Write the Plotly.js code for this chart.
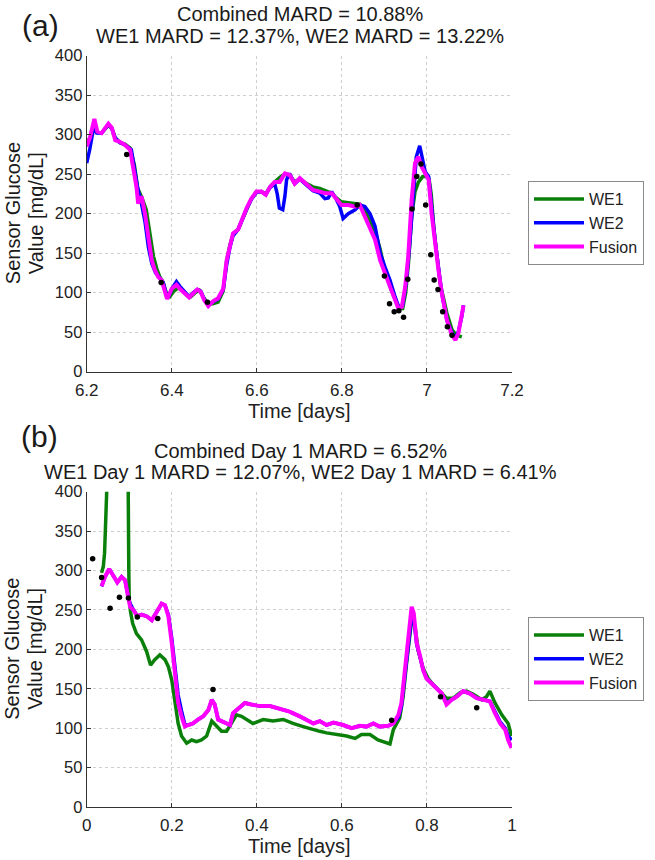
<!DOCTYPE html>
<html>
<head>
<meta charset="utf-8">
<script src="https://cdn.plot.ly/plotly-3.0.1.min.js"></script>
<style>html,body{margin:0;padding:0;background:#fff;}#chart{width:655px;height:860px;}</style>
</head>
<body>
<div id="chart"></div>
<script>
// ---------- Panel (a) data ----------
const aWE1Time = [6.200,6.208,6.218,6.225,6.235,6.251,6.259,6.267,6.278,6.290,
  6.302,6.312,6.320,6.330,6.340,6.349,6.357,6.365,6.372,6.380,
  6.388,6.395,6.405,6.415,6.425,6.435,6.445,6.455,6.465,6.475,
  6.486,6.497,6.509,6.521,6.529,6.537,6.545,6.556,6.565,6.576,
  6.587,6.599,6.611,6.621,6.631,6.642,6.654,6.666,6.677,6.689,
  6.701,6.717,6.732,6.748,6.760,6.776,6.787,6.799,6.815,6.831,
  6.842,6.854,6.866,6.878,6.890,6.901,6.913,6.925,6.935,6.943,
  6.950,6.957,6.964,6.972,6.980,6.990,6.998,7.005,7.010,7.016,
  7.023,7.031,7.047,7.059,7.070,7.082];
const aWE1Value = [290,296,310,303,302,312,308,296,290,288,
  283,262,232,220,205,172,146,130,120,113,
  98,95,102,106,103,97,95,100,103,94,
  86,86,88,102,140,161,175,180,191,207,
  219,227,228,225,234,240,246,250,249,240,
  244,238,234,232,229,226,220,215,214,213,
  212,205,190,178,155,128,108,92,80,80,
  100,140,196,228,240,247,247,244,225,183,
  150,112,74,53,46,44];

const aWE2Time = [6.200,6.207,6.216,6.224,6.235,6.251,6.259,6.267,6.278,6.290,
  6.305,6.313,6.320,6.328,6.337,6.345,6.353,6.362,6.372,6.380,
  6.386,6.393,6.400,6.411,6.419,6.431,6.441,6.450,6.460,6.468,
  6.476,6.486,6.497,6.509,6.521,6.529,6.537,6.544,6.556,6.564,
  6.576,6.587,6.599,6.611,6.621,6.631,6.642,6.648,6.653,6.661,
  6.666,6.670,6.677,6.689,6.701,6.717,6.732,6.748,6.760,6.768,
  6.776,6.787,6.795,6.803,6.815,6.831,6.842,6.854,6.866,6.878,
  6.890,6.901,6.913,6.925,6.935,6.943,6.951,6.959,6.967,6.975,
  6.983,6.989,6.996,7.004,7.011,7.019,7.027,7.035,7.047,7.059,
  7.067,7.074,7.082,7.086];
const aWE2Value = [264,281,308,302,302,313,308,296,290,287,
  281,251,232,215,190,158,137,125,118,113,
  100,95,105,114,108,100,95,100,104,102,
  92,85,88,92,104,135,158,172,180,191,
  206,218,227,228,224,233,238,225,207,205,
  222,243,251,238,244,236,229,226,219,220,
  228,218,209,194,200,205,211,209,200,184,
  150,133,116,95,80,84,112,158,222,272,
  286,272,253,247,205,167,133,99,65,49,
  42,51,70,84];

const aFusionTime = [6.200,6.208,6.218,6.225,6.235,6.251,6.259,6.267,6.278,6.290,
  6.302,6.310,6.317,6.321,6.329,6.337,6.345,6.353,6.360,6.368,
  6.376,6.384,6.389,6.400,6.411,6.419,6.431,6.441,6.450,6.460,
  6.468,6.476,6.486,6.497,6.509,6.521,6.529,6.537,6.544,6.556,
  6.564,6.576,6.587,6.599,6.611,6.621,6.631,6.642,6.654,6.666,
  6.677,6.689,6.701,6.717,6.732,6.748,6.760,6.776,6.787,6.799,
  6.815,6.831,6.842,6.854,6.866,6.878,6.890,6.901,6.913,6.925,
  6.933,6.941,6.949,6.956,6.964,6.972,6.980,6.988,6.996,7.004,
  7.011,7.019,7.027,7.035,7.047,7.059,7.067,7.074,7.082,7.086];
const aFusionValue = [285,297,320,304,302,314,309,293,291,287,
  281,259,234,213,222,200,167,141,129,120,
  116,99,92,105,110,105,99,94,99,104,
  101,91,83,89,93,105,141,162,175,180,
  192,207,219,228,228,224,234,240,240,251,
  249,238,245,238,230,228,226,226,219,211,
  211,209,211,196,179,167,141,124,108,91,
  80,82,108,146,217,264,272,259,250,243,
  200,162,129,99,65,46,40,49,70,84];

const aRefTime = [6.294,6.375,6.484,6.836,6.900,6.912,6.923,6.934,6.945,6.955,
  6.965,6.976,6.986,6.997,7.009,7.017,7.026,7.037,7.048,7.059];
const aRefValue = [275,113,88,211,121,86,76,77,69,117,
  206,247,263,211,148,116,104,76,57,46];

// ---------- Panel (b) data ----------
const bWE1Time = [0.035,0.039,0.042,0.045,0.047,0.060,0.080,0.096,0.099,0.100,
  0.103,0.108,0.117,0.129,0.141,0.150,0.160,0.172,0.184,0.192,
  0.200,0.207,0.215,0.223,0.235,0.247,0.258,0.270,0.282,0.294,
  0.305,0.317,0.329,0.341,0.352,0.364,0.376,0.391,0.415,0.438,
  0.462,0.485,0.509,0.532,0.548,0.564,0.587,0.611,0.631,0.646,
  0.666,0.685,0.713,0.721,0.736,0.744,0.752,0.760,0.765,0.772,
  0.780,0.791,0.803,0.815,0.831,0.846,0.862,0.878,0.893,0.909,
  0.929,0.940,0.948,0.960,0.976,0.991,0.999];
const bWE1Value = [297,305,322,394,520,600,600,520,300,263,
  248,233,220,212,197,180,187,193,187,178,
  161,132,106,90,81,85,83,85,90,109,
  102,96,96,106,117,115,111,106,111,109,
  111,106,102,98,96,94,92,90,87,92,
  92,85,80,98,113,140,182,225,242,229,
  197,176,163,155,147,138,138,145,147,143,
  136,140,147,132,117,106,90];

const bWE2Time = [0.035,0.043,0.053,0.063,0.072,0.082,0.090,0.098,0.102,0.110,
  0.119,0.129,0.141,0.153,0.164,0.176,0.184,0.192,0.200,0.207,
  0.215,0.223,0.231,0.239,0.250,0.262,0.274,0.286,0.294,0.301,
  0.309,0.317,0.329,0.337,0.344,0.356,0.372,0.387,0.407,0.431,
  0.454,0.477,0.501,0.517,0.533,0.548,0.564,0.580,0.603,0.623,
  0.642,0.658,0.674,0.689,0.709,0.721,0.733,0.740,0.748,0.756,
  0.764,0.769,0.776,0.784,0.791,0.799,0.811,0.823,0.835,0.846,
  0.858,0.870,0.885,0.901,0.917,0.933,0.948,0.960,0.972,0.984,
  0.991,0.999];
const bWE2Value = [280,292,302,293,285,292,288,266,258,250,
  242,244,242,237,248,258,256,244,214,180,
  142,122,104,104,106,111,115,123,136,130,
  111,109,106,104,119,125,132,130,128,128,
  125,121,115,111,106,109,104,107,104,100,
  103,102,106,102,103,106,114,128,168,210,
  242,238,206,190,174,163,157,151,144,132,
  136,140,147,144,138,136,134,121,108,100,
  90,85];

const bFusionTime = [0.035,0.043,0.053,0.063,0.072,0.082,0.090,0.098,0.102,0.110,
  0.119,0.129,0.141,0.153,0.164,0.176,0.184,0.192,0.200,0.207,
  0.215,0.223,0.231,0.239,0.250,0.262,0.274,0.286,0.294,0.301,
  0.309,0.317,0.329,0.337,0.344,0.356,0.372,0.387,0.407,0.431,
  0.454,0.477,0.501,0.517,0.533,0.548,0.564,0.580,0.603,0.623,
  0.642,0.658,0.674,0.689,0.709,0.721,0.733,0.740,0.748,0.756,
  0.764,0.769,0.776,0.784,0.791,0.799,0.811,0.823,0.835,0.846,
  0.858,0.870,0.885,0.901,0.917,0.933,0.948,0.960,0.972,0.984,
  0.991,0.999];
const bFusionValue = [280,292,302,293,285,292,288,265,254,250,
  242,244,242,237,248,258,256,242,208,166,
  132,115,102,104,106,111,115,123,136,130,
  111,109,106,104,119,125,132,130,128,128,
  125,121,115,111,106,109,104,107,104,100,
  103,102,106,102,103,106,117,132,174,216,
  254,246,208,191,174,163,157,151,144,130,
  136,140,147,144,138,136,134,119,106,98,
  85,75];

const bRefTime = [0.014,0.035,0.055,0.077,0.098,0.119,0.167,0.297,0.717,0.832,0.917];
const bRefValue = [315,291,252,266,265,241,239,149,110,140,126];

// ---------- Labels ----------
const seriesNames = ['WE1','WE2','Fusion'];
const seriesColors = ['#0a800a','#0000ff','#ff00ff'];
const aTickVals = [6.2,6.4,6.6,6.8,7.0,7.2];
const aTickText = ['6.2','6.4','6.6','6.8','7','7.2'];
const bTickVals = [0,0.2,0.4,0.6,0.8,1];
const bTickText = ['0','0.2','0.4','0.6','0.8','1'];
const yTickVals = [0,50,100,150,200,250,300,350,400];
const aTitle = ['Combined MARD = 10.88%','WE1 MARD = 12.37%, WE2 MARD = 13.22%'];
const bTitle = ['Combined Day 1 MARD = 6.52%','WE1 Day 1 MARD = 12.07%, WE2 Day 1 MARD = 6.41%'];
const xTitle = 'Time [days]';
const yTitle = ['Sensor Glucose','Value [mg/dL]'];

// ---------- Build ----------
const W = 655, H = 860;
const FONT = 'Liberation Sans, Arial, Helvetica, sans-serif';
const px = x => x / W;
const py = y => 1 - y / H;

function line(x, y, i, xa, ya, leg) {
  return {x: x, y: y, type: 'scatter', mode: 'lines', name: seriesNames[i],
    xaxis: xa, yaxis: ya, legend: leg,
    line: {color: seriesColors[i], width: i === 2 ? 4 : 3.5}};
}
function dots(x, y, xa, ya) {
  return {x: x, y: y, type: 'scatter', mode: 'markers', showlegend: false,
    xaxis: xa, yaxis: ya, marker: {color: '#000', size: 5.5}};
}

const traces = [
  line(aWE1Time, aWE1Value, 0, 'x', 'y', 'legend'),
  line(aWE2Time, aWE2Value, 1, 'x', 'y', 'legend'),
  line(aFusionTime, aFusionValue, 2, 'x', 'y', 'legend'),
  dots(aRefTime, aRefValue, 'x', 'y'),
  line(bWE1Time, bWE1Value, 0, 'x2', 'y2', 'legend2'),
  line(bWE2Time, bWE2Value, 1, 'x2', 'y2', 'legend2'),
  line(bFusionTime, bFusionValue, 2, 'x2', 'y2', 'legend2'),
  dots(bRefTime, bRefValue, 'x2', 'y2')
];

const xDom = [px(86.7), px(512)];
function xAxis(anchor, range, tv, tt) {
  return {domain: xDom, anchor: anchor, range: range, tickvals: tv, ticktext: tt,
    showline: true, linecolor: '#333', linewidth: 1, ticks: 'inside', ticklen: 4,
    tickcolor: '#333', showgrid: true, gridcolor: '#cfcfcf', griddash: 'dot',
    gridwidth: 1, zeroline: false, fixedrange: true, ticklabelstandoff: 3,
    tickfont: {family: FONT, size: 17, color: '#222'},
    title: {text: xTitle, font: {family: FONT, size: 20, color: '#222'}, standoff: 2}};
}
function yAxis(anchor, dom) {
  return {domain: dom, anchor: anchor, range: [0, 400], tickvals: yTickVals,
    showline: true, linecolor: '#333', linewidth: 1, ticks: 'inside', ticklen: 4,
    tickcolor: '#333', showgrid: true, gridcolor: '#cfcfcf', griddash: 'dot',
    gridwidth: 1, zeroline: false, fixedrange: true,
    tickfont: {family: FONT, size: 16.5, color: '#222'}};
}

function ann(text, x, y, size, extra) {
  return Object.assign({text: text, x: x, y: y, xref: 'paper', yref: 'paper',
    xanchor: 'center', yanchor: 'middle', showarrow: false,
    font: {family: FONT, size: size, color: '#1a1a1a'}}, extra || {});
}

const annotations = [
  ann('(a)', px(40), py(25), 30),
  ann(aTitle[0], px(300), py(14), 20),
  ann(aTitle[1], px(300), py(36), 20),
  ann('(b)', px(39), py(437), 30),
  ann(bTitle[0], px(300), py(451), 20),
  ann(bTitle[1], px(300), py(472), 20),
  ann(yTitle[0], px(12.5), py(213.7), 20, {textangle: -90}),
  ann(yTitle[1], px(35.5), py(213.7), 20, {textangle: -90}),
  ann(yTitle[0], px(12.5), py(649.3), 20, {textangle: -90}),
  ann(yTitle[1], px(35.5), py(649.3), 20, {textangle: -90})
];

const legendStyle = {xanchor: 'left', yanchor: 'top', bgcolor: '#fff',
  bordercolor: '#8a8a8a', borderwidth: 1, tracegroupgap: 0,
  font: {family: FONT, size: 16, color: '#222'}, itemwidth: 50};

const layout = {
  width: W, height: H, margin: {l: 0, r: 0, t: 0, b: 0},
  paper_bgcolor: '#fff', plot_bgcolor: '#fff',
  font: {family: FONT},
  showlegend: true,
  xaxis: xAxis('y', [6.2, 7.2], aTickVals, aTickText),
  yaxis: yAxis('x', [py(371.7), py(55.7)]),
  xaxis2: xAxis('y2', [0, 1], bTickVals, bTickText),
  yaxis2: yAxis('x2', [py(807), py(491.7)]),
  legend: Object.assign({x: px(528), y: py(181)}, legendStyle),
  legend2: Object.assign({x: px(528), y: py(617)}, legendStyle),
  annotations: annotations
};

Plotly.newPlot('chart', traces, layout, {staticPlot: true, displayModeBar: false});
</script>
</body>
</html>
